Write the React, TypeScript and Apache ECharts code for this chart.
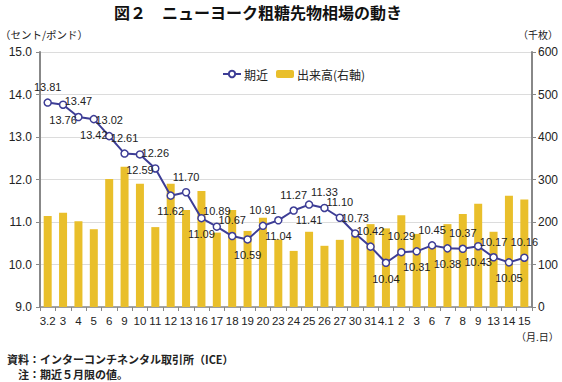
import React, { useEffect, useRef } from "react";
import * as echarts from "echarts";

const categories = ["3.2","3","4","5","6","9","10","11","12","13","16","17","18","19","20","23","24","25","26","27","30","31","4.1","2","3","6","7","8","9","13","14","15"];
const priceValues = [13.81,13.76,13.47,13.42,13.02,12.61,12.59,12.26,11.62,11.70,11.09,10.89,10.67,10.59,10.91,11.04,11.27,11.41,11.33,11.10,10.73,10.42,10.04,10.29,10.31,10.45,10.38,10.37,10.43,10.17,10.05,10.16];
const volumeValues = [214,222,202,183,301,330,290,188,290,228,273,175,228,179,210,159,132,177,144,158,167,195,185,216,172,145,195,219,243,177,262,253];
const labelSides = ["top","bottom","top","bottom","top","top","bottom","top","bottom","top","bottom","top","top","bottom","top","bottom","top","bottom","top","top","top","top","bottom","top","bottom","top","bottom","top","bottom","top","bottom","top"];
const leftTicks = { min: 9, max: 15, interval: 1 };
const rightTicks = { min: 0, max: 600, interval: 100 };

const JP = "'Noto Sans CJK JP', 'Liberation Sans', sans-serif";
const NUM = "'Liberation Sans', Arial, sans-serif";
const LINE = "#3d3d96";
const BAR = "#e9bf2b";

export default function App() {
  const ref = useRef<HTMLDivElement>(null);
  useEffect(() => {
    if (!ref.current) return;
    const chart = echarts.init(ref.current, null, { renderer: "svg" });
    chart.setOption({
      animation: false,
      backgroundColor: "#ffffff",
      grid: { left: 40, right: 30, top: 52, bottom: 75 },
      legend: {
        top: 63,
        left: 217,
        itemGap: 8,
        itemWidth: 18,
        itemHeight: 8,
        textStyle: { fontFamily: JP, fontSize: 12, color: "#222", padding: [0, 0, 0, -2] },
        data: [
          { name: "期近" },
          { name: "出来高(右軸)", itemStyle: { color: BAR } },
        ],
      },
      graphic: [
        { type: "text", left: 114, top: 4, style: { text: "図２　ニューヨーク粗糖先物相場の動き", font: `bold 16px ${JP}`, fill: "#111" } },
        { type: "text", left: 0, top: 29, style: { text: "（セント/ポンド）", font: `10.5px ${JP}`, fill: "#222" } },
        { type: "text", left: 518, top: 29, style: { text: "（千枚）", font: `10px ${JP}`, fill: "#222" } },
        { type: "text", left: 516, top: 331, style: { text: "（月.日）", font: `10px ${JP}`, fill: "#222" } },
        { type: "text", left: 7, top: 353, style: { text: "資料：インターコンチネンタル取引所（ICE）", font: `bold 11px ${JP}`, fill: "#222" } },
        { type: "text", left: 7, top: 368, style: { text: "　注：期近５月限の値。", font: `bold 11px ${JP}`, fill: "#222" } },
      ],
      xAxis: {
        type: "category",
        data: categories,
        axisLine: { lineStyle: { color: "#888", width: 1.5 } },
        axisTick: { show: true, interval: 0, length: 4, lineStyle: { color: "#888" } },
        axisLabel: { interval: 0, fontFamily: NUM, fontSize: 11.5, color: "#222", margin: 8 },
      },
      yAxis: [
        {
          type: "value",
          min: leftTicks.min,
          max: leftTicks.max,
          interval: leftTicks.interval,
          axisLine: { show: true, lineStyle: { color: "#888", width: 2 } },
          axisTick: { show: true, length: 4, lineStyle: { color: "#888" } },
          axisLabel: { formatter: (v: number) => v.toFixed(1), fontFamily: NUM, fontSize: 12, color: "#222", margin: 8 },
          splitLine: { show: true, lineStyle: { color: "#dcdcdc", width: 1 } },
        },
        {
          type: "value",
          min: rightTicks.min,
          max: rightTicks.max,
          interval: rightTicks.interval,
          position: "right",
          axisLine: { show: true, lineStyle: { color: "#888", width: 2 } },
          axisTick: { show: true, length: 4, lineStyle: { color: "#888" } },
          axisLabel: { fontFamily: NUM, fontSize: 12, color: "#222", margin: 6 },
          splitLine: { show: false },
        },
      ],
      series: [
        {
          name: "出来高(右軸)",
          type: "bar",
          yAxisIndex: 1,
          barWidth: 8,
          itemStyle: { color: BAR },
          data: volumeValues,
          z: 1,
        },
        {
          name: "期近",
          type: "line",
          yAxisIndex: 0,
          symbol: "circle",
          symbolSize: 7,
          lineStyle: { color: LINE, width: 2 },
          itemStyle: { color: "#ffffff", borderColor: LINE, borderWidth: 1.5 },
          data: priceValues.map((v, i) => ({
            value: v,
            label: { position: labelSides[i] },
          })),
          label: {
            show: true,
            formatter: (p: any) => Number(p.value).toFixed(2),
            fontFamily: NUM,
            fontSize: 11,
            color: "#222",
            distance: 6,
          },
          z: 3,
        },
      ],
    });
    return () => chart.dispose();
  }, []);
  return <div ref={ref} style={{ width: 562, height: 382, position: "absolute", left: 0, top: 0 }} />;
}
